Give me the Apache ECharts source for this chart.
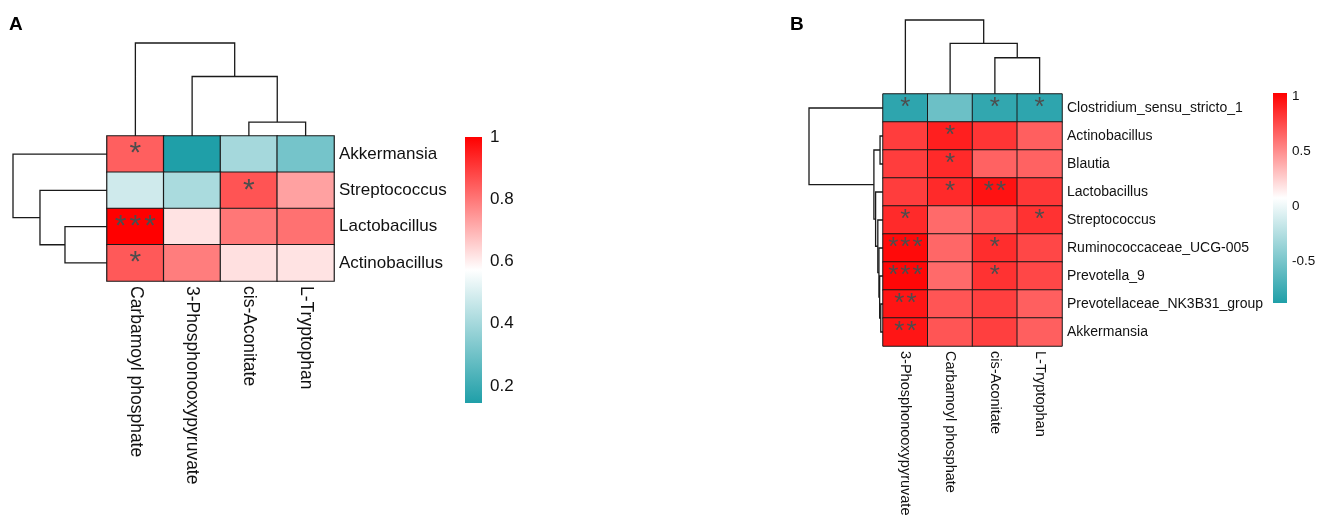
<!DOCTYPE html>
<html>
<head>
    <meta charset="utf-8">
    <title>Correlation heatmaps A / B</title>
    <style>
    html, body { margin: 0; padding: 0; background: #fff; }
    </style>
    <script type="text/javascript" src="https://cdn.jsdelivr.net/npm/echarts@6.0.0/dist/echarts.min.js"></script>
</head>
<body>
    <div id="main" style="width:1325px;height:523px"></div>
    <script>
    // ---- panel A ----
    var colLabelsA = ['Carbamoyl phosphate', '3-Phosphonooxypyruvate', 'cis-Aconitate', 'L-Tryptophan'];
    var rowLabelsA = ['Akkermansia', 'Streptococcus', 'Lactobacillus', 'Actinobacillus'];
    var valuesA = [
        [0.84, 0.145, 0.40, 0.31],
        [0.48, 0.41, 0.86, 0.73],
        [1.00, 0.62, 0.80, 0.81],
        [0.85, 0.79, 0.625, 0.62]
    ];
    var starsA = [
        [1, 0, 0, 0],
        [0, 0, 1, 0],
        [3, 0, 0, 0],
        [1, 0, 0, 0]
    ];
    // hclust style merges: negative = leaf, positive = earlier merge step
    var colMergeA = [[-3, -4], [-2, 1], [-1, 2]];
    var colHeightA = [0.15, 0.64, 1];
    var rowMergeA = [[-3, -4], [-2, 1], [-1, 2]];
    var rowHeightA = [0.447, 0.713, 1];
    var rangeA = [0.145, 1.0];
    var legendTicksA = [0.2, 0.4, 0.6, 0.8, 1];

    // ---- panel B ----
    var colLabelsB = ['3-Phosphonooxypyruvate', 'Carbamoyl phosphate', 'cis-Aconitate', 'L-Tryptophan'];
    var rowLabelsB = ['Clostridium_sensu_stricto_1', 'Actinobacillus', 'Blautia', 'Lactobacillus', 'Streptococcus',
        'Ruminococcaceae_UCG-005', 'Prevotella_9', 'Prevotellaceae_NK3B31_group', 'Akkermansia'];
    var valuesB = [
        [-0.82, -0.555, -0.80, -0.82],
        [0.80, 0.91, 0.83, 0.67],
        [0.80, 0.87, 0.66, 0.66],
        [0.80, 0.87, 0.96, 0.82],
        [0.87, 0.63, 0.73, 0.84],
        [0.99, 0.64, 0.86, 0.76],
        [1.00, 0.63, 0.84, 0.76],
        [0.95, 0.71, 0.79, 0.67],
        [0.95, 0.71, 0.79, 0.67]
    ];
    var starsB = [
        [1, 0, 1, 1],
        [0, 1, 0, 0],
        [0, 1, 0, 0],
        [0, 1, 2, 0],
        [1, 0, 0, 1],
        [3, 0, 1, 0],
        [3, 0, 1, 0],
        [2, 0, 0, 0],
        [2, 0, 0, 0]
    ];
    var colMergeB = [[-3, -4], [-2, 1], [-1, 2]];
    var colHeightB = [0.49, 0.685, 1];
    var rowMergeB = [[-2, -3], [-8, -9], [-7, 2], [-6, 3], [-5, 4], [-4, 5], [1, 6], [-1, 7]];
    var rowHeightB = [0.04, 0.03, 0.045, 0.055, 0.07, 0.10, 0.123, 1];
    var rangeB = [-0.882, 1.027];
    var legendTicksB = [-0.5, 0, 0.5, 1];

    var teal = '#1f9fa8', mid = '#ffffff', red = '#ff0000';
    var font = 'Liberation Sans, Arial, sans-serif';

    function cells(vals) {
        var out = [];
        vals.forEach(function (row, r) {
            row.forEach(function (v, c) { out.push([c, r, v]); });
        });
        return out;
    }

    // turn merges into U-shaped segments [leftPos, leftH, rightPos, rightH, h]
    function dendro(merges, heights) {
        var pos = [], hs = [], segs = [];
        function node(k) {
            return k < 0 ? [-k - 1 + 0.5, 0] : [pos[k - 1], hs[k - 1]];
        }
        merges.forEach(function (m, i) {
            var a = node(m[0]), b = node(m[1]);
            segs.push([a[0], a[1], b[0], b[1], heights[i]]);
            pos[i] = (a[0] + b[0]) / 2;
            hs[i] = heights[i];
        });
        return segs;
    }

    function dendroItem(swap) {
        return function (params, api) {
            var lp = api.value(0), lh = api.value(1), rp = api.value(2), rh = api.value(3), h = api.value(4);
            function pt(p, hh) { return swap ? api.coord([hh, p]) : api.coord([p, hh]); }
            return {
                type: 'polyline',
                shape: { points: [pt(lp, lh), pt(lp, h), pt(rp, h), pt(rp, rh)] },
                style: { stroke: '#1a1a1a', lineWidth: 1.3, fill: null }
            };
        };
    }

    function colorBar(params, api) {
        var p0 = api.coord([0, api.value(1)]);
        var p1 = api.coord([1, api.value(0)]);
        return {
            type: 'rect',
            shape: { x: p0[0], y: p0[1], width: p1[0] - p0[0], height: p1[1] - p0[1] },
            style: {
                fill: new echarts.graphic.LinearGradient(0, 0, 0, 1, [
                    { offset: 0, color: red }, { offset: 0.5, color: mid }, { offset: 1, color: teal }
                ])
            }
        };
    }

    function starLabel(stars, size, pad) {
        return {
            show: true,
            formatter: function (p) {
                var n = stars[p.value[1]][p.value[0]], s = '';
                for (var i = 0; i < n; i++) s += '{s|*}';
                return s;
            },
            rich: { s: { fontSize: size, color: '#4d4d4d', fontFamily: font, padding: [0, pad] } }
        };
    }

    var hidden = { show: false };
    var grids = [
        { left: 107, top: 136, width: 227, height: 145 },   // A heat
        { left: 107, top: 43, width: 227, height: 93 },     // A col tree
        { left: 13, top: 136, width: 94, height: 145 },     // A row tree
        { left: 465, top: 137, width: 17, height: 266 },    // A bar
        { left: 883, top: 94, width: 179, height: 252 },    // B heat
        { left: 883, top: 20, width: 179, height: 74 },     // B col tree
        { left: 809, top: 94, width: 74, height: 252 },     // B row tree
        { left: 1273, top: 93, width: 14, height: 210 }     // B bar
    ];

    function heatX(g, labels, fs) {
        return {
            gridIndex: g, type: 'category', data: labels, position: 'bottom',
            axisLine: hidden, axisTick: hidden, splitLine: hidden,
            axisLabel: { rotate: -90, margin: 5, fontSize: fs, color: '#111', fontFamily: font, interval: 0 }
        };
    }
    function heatY(g, labels, fs) {
        return {
            gridIndex: g, type: 'category', data: labels, position: 'right', inverse: true,
            axisLine: hidden, axisTick: hidden, splitLine: hidden,
            axisLabel: { margin: 5, fontSize: fs, color: '#111', fontFamily: font, interval: 0 }
        };
    }
    function plain(g, min, max, inverse) {
        return { gridIndex: g, type: 'value', min: min, max: max, inverse: !!inverse, show: false };
    }
    function barY(g, range, ticks, fs, margin) {
        return {
            gridIndex: g, type: 'value', min: range[0], max: range[1], position: 'right',
            axisLine: hidden, axisTick: hidden, splitLine: hidden,
            axisLabel: { customValues: ticks, margin: margin, fontSize: fs, color: '#111', fontFamily: font }
        };
    }

    var option = {
        animation: false,
        backgroundColor: '#fff',
        title: [
            { text: 'A', left: 9, top: 15, padding: 0, textStyle: { fontSize: 19, fontWeight: 'bold', color: '#000', fontFamily: font } },
            { text: 'B', left: 790, top: 15, padding: 0, textStyle: { fontSize: 19, fontWeight: 'bold', color: '#000', fontFamily: font } }
        ],
        grid: grids,
        xAxis: [
            heatX(0, colLabelsA, 17.5),
            plain(1, 0, colLabelsA.length),
            plain(2, 0, 1, true),
            plain(3, 0, 1),
            heatX(4, colLabelsB, 14.5),
            plain(5, 0, colLabelsB.length),
            plain(6, 0, 1, true),
            plain(7, 0, 1)
        ],
        yAxis: [
            heatY(0, rowLabelsA, 17),
            plain(1, 0, 1),
            plain(2, 0, rowLabelsA.length, true),
            barY(3, rangeA, legendTicksA, 17, 8),
            heatY(4, rowLabelsB, 14),
            plain(5, 0, 1),
            plain(6, 0, rowLabelsB.length, true),
            barY(7, rangeB, legendTicksB, 13.5, 5)
        ],
        visualMap: [
            { show: false, seriesIndex: 0, dimension: 2, min: rangeA[0], max: rangeA[1], inRange: { color: [teal, mid, red] } },
            { show: false, seriesIndex: 4, dimension: 2, min: rangeB[0], max: rangeB[1], inRange: { color: [teal, mid, red] } }
        ],
        series: [
            {
                type: 'heatmap', xAxisIndex: 0, yAxisIndex: 0, data: cells(valuesA),
                itemStyle: { borderColor: '#1a1a1a', borderWidth: 1.2 },
                label: starLabel(starsA, 30, 1.5),
                emphasis: { disabled: true }
            },
            {
                type: 'custom', xAxisIndex: 1, yAxisIndex: 1, clip: false,
                data: dendro(colMergeA, colHeightA), renderItem: dendroItem(false)
            },
            {
                type: 'custom', xAxisIndex: 2, yAxisIndex: 2, clip: false,
                data: dendro(rowMergeA, rowHeightA), renderItem: dendroItem(true)
            },
            {
                type: 'custom', xAxisIndex: 3, yAxisIndex: 3, clip: false,
                data: [rangeA], renderItem: colorBar
            },
            {
                type: 'heatmap', xAxisIndex: 4, yAxisIndex: 4, data: cells(valuesB),
                itemStyle: { borderColor: '#1a1a1a', borderWidth: 1 },
                label: starLabel(starsB, 26, 1),
                emphasis: { disabled: true }
            },
            {
                type: 'custom', xAxisIndex: 5, yAxisIndex: 5, clip: false,
                data: dendro(colMergeB, colHeightB), renderItem: dendroItem(false)
            },
            {
                type: 'custom', xAxisIndex: 6, yAxisIndex: 6, clip: false,
                data: dendro(rowMergeB, rowHeightB), renderItem: dendroItem(true)
            },
            {
                type: 'custom', xAxisIndex: 7, yAxisIndex: 7, clip: false,
                data: [rangeB], renderItem: colorBar
            }
        ]
    };

    var myChart = echarts.init(document.getElementById('main'));
    myChart.setOption(option);
    </script>
</body>
</html>
